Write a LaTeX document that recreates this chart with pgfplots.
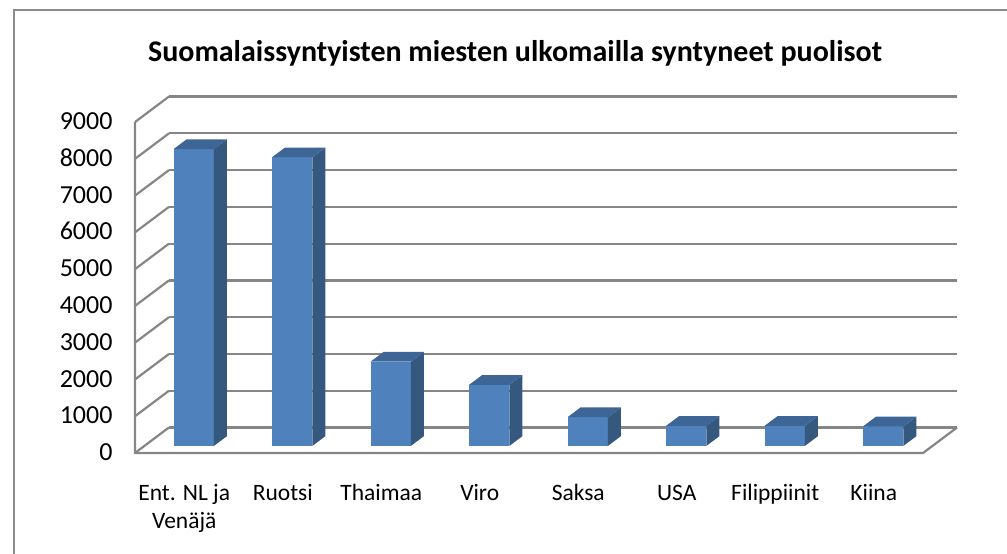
\documentclass[border=0pt]{standalone}
\usepackage{pgfplots}
\pgfplotsset{compat=1.18}
\usepackage{pgfplotstable}
\usepackage{fontspec}
\setmainfont{Carlito}
\definecolor{barfront}{HTML}{4F81BD}
\definecolor{barside}{HTML}{35587F}
\definecolor{bartop}{HTML}{3D6596}
\definecolor{gridgray}{HTML}{868686}
\definecolor{framegray}{HTML}{8C8C8C}

\pgfplotstableread{
idx value
0 8070
1 7850
2 2290
3 1660
4 780
5 545
6 545
7 530
}\bardata

\begin{document}
\begin{tikzpicture}[x=1pt,y=1pt]
\begin{axis}[
  x={(98.5pt,0pt)}, y={(34pt,25.5pt)}, z={(0pt,0.036778pt)},
  xmin=0, xmax=8, ymin=0, ymax=1, zmin=0, zmax=9000,
  clip=false,
  axis line style={draw=none},
  major tick length=0pt,
  ztick={0,1000,...,9000},
  xtick={0.5,1.5,...,7.5},
  ytick=\empty,
  typeset ticklabels with strut,
  xticklabels={{Ent. NL ja\\Venäjä},Ruotsi,Thaimaa,Viro,Saksa,USA,Filippiinit,Kiina},
  xticklabel style={anchor=north, align=center, yshift=-24pt, font=\fontsize{23.5}{28}\selectfont},
  zticklabel style={anchor=east, xshift=-19pt, yshift=-2pt, font=\fontsize{26}{28}\selectfont},
  /pgf/number format/assume math mode=true,
  /pgf/number format/1000 sep={},
  zmajorgrids, xmajorgrids=false, ymajorgrids=false,
  major grid style={gridgray, line width=2.2pt},
]
\pgfplotsinvokeforeach{0,...,7}{
  \pgfplotstablegetelem{#1}{value}\of\bardata
  \pgfmathsetmacro\zv{\pgfplotsretval}
  \pgfmathsetmacro\xl{#1+0.295}
  \pgfmathsetmacro\xr{#1+0.705}
  \edef\drawbar{%
   \noexpand\addplot3[fill=barfront, draw=none, forget plot, mark=none] coordinates {(\xl,0.28,0) (\xr,0.28,0) (\xr,0.28,\zv) (\xl,0.28,\zv)};
   \noexpand\addplot3[fill=barside, draw=none, forget plot, mark=none] coordinates {(\xr,0.28,0) (\xr,0.66,0) (\xr,0.66,\zv) (\xr,0.28,\zv)};
   \noexpand\addplot3[fill=bartop, draw=none, forget plot, mark=none] coordinates {(\xl,0.28,\zv) (\xr,0.28,\zv) (\xr,0.66,\zv) (\xl,0.66,\zv)};
  }\drawbar
}
\draw[gridgray, line width=2.2pt] (axis cs:0,0,9000) -- (axis cs:0,0,0) -- (axis cs:8,0,0) -- (axis cs:8,1,0);
\coordinate (O) at (axis cs:0,0,0);
\end{axis}
\draw[framegray, line width=2pt] ([shift={(-121,-101)}]O) -- ([shift={(-121,442.5)}]O) -- ([shift={(872,442.5)}]O);
\node[font=\fontsize{30}{34}\selectfont\bfseries] at ([shift={(380,400)}]O) {Suomalaissyntyisten miesten ulkomailla syntyneet puolisot};
\pgfresetboundingbox
\path[use as bounding box] ([shift={(-135,-101)}]O) rectangle ([shift={(872,453)}]O);
\end{tikzpicture}
\end{document}
